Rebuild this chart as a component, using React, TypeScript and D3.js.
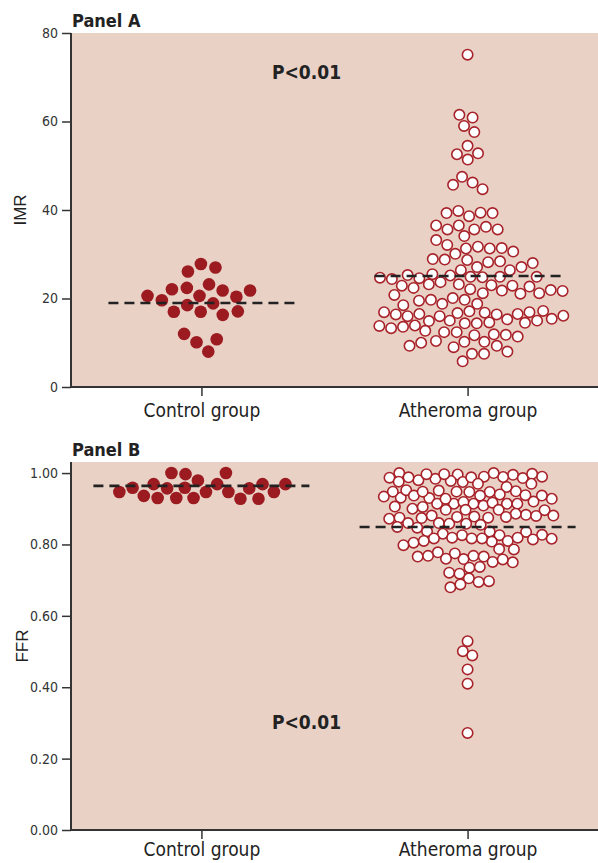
import React, { useEffect, useRef } from "react";
import * as d3 from "d3";

const groups = ["Control group", "Atheroma group"];

// Panel A: IMR
const imrTicks = [0, 20, 40, 60, 80];
const imrControl = [27.8, 26.1, 27.0, 23.2, 22.1, 21.8, 20.6, 20.6, 20.4, 21.8, 22.4, 19.6, 18.5, 18.9, 17.0, 16.3, 17.0, 17.1, 10.8, 12.0, 10.1, 8.0];
const imrAtheroma = [
  75.1, 61.5, 60.9, 59.0, 57.6, 54.5, 52.6, 52.8, 51.4, 47.5, 45.7, 44.7, 46.2,
  39.3, 39.3, 39.8, 38.6, 39.4, 36.5, 36.5, 35.6, 35.6, 35.6, 36.2, 33.2, 34.1,
  31.7, 31.3, 30.6, 31.3, 31.4, 32.1, 28.9, 28.8, 28.4, 28.0, 28.2, 28.7, 30.1,
  27.1, 26.4, 26.4, 27.1, 25.5, 25.3, 24.9, 24.7, 24.4, 24.9, 24.9, 25.2, 24.6, 24.8,
  23.7, 22.9, 23.2, 22.1, 22.9, 21.7, 21.9, 21.8, 22.4, 22.7, 23.0, 23.2,
  21.2, 20.8, 19.7, 19.7, 19.5, 20.1, 21.1, 21.2, 18.8, 18.5, 18.8,
  16.9, 16.4, 17.2, 16.0, 16.1, 16.5, 16.9, 16.8, 16.4, 16.5, 17.1, 16.0, 16.7, 15.4,
  15.3, 15.0, 14.5, 14.4, 13.8, 13.3, 13.6, 13.9, 14.4, 14.6, 14.9, 15.0,
  12.4, 11.9, 11.4, 11.7, 11.8, 12.4, 12.7, 9.3, 10.2, 9.0, 10.0, 10.2, 10.4, 9.3,
  7.5, 7.5, 8.0, 5.8,
];
const imrMeans = [19.0, 25.1];

// Panel B: FFR
const ffrTicks = [0, 0.2, 0.4, 0.6, 0.8, 1.0];
const ffrControl = [1.0, 0.997, 1.0, 0.979, 0.969, 0.969, 0.957, 0.957, 0.959, 0.969, 0.969, 0.959, 0.947, 0.947, 0.947, 0.947, 0.93, 0.928, 0.93, 0.93, 0.928, 0.936];
const ffrAtheroma = [
  0.995, 0.984, 0.996, 0.99, 0.975, 0.988, 0.99, 1.0, 0.98, 0.988, 0.997,
  0.949, 0.961, 0.947, 0.931, 0.93, 0.928, 0.938, 0.952, 0.937, 0.948, 0.934, 0.937, 0.951,
  0.909, 0.906, 0.9, 0.914, 0.896, 0.914, 0.92, 0.914, 0.914,
  0.872, 0.86, 0.875, 0.881, 0.858, 0.874, 0.877, 0.883, 0.881,
  0.849, 0.827, 0.835, 0.816,
  0.986, 0.998, 0.989, 0.97, 0.987, 0.978, 1.0, 0.976, 0.997, 0.97,
  0.937, 0.94, 0.948, 0.948, 0.928, 0.947,
  0.917, 0.914, 0.919, 0.897, 0.897, 0.897, 0.905,
  0.886, 0.88, 0.877, 0.875, 0.878,
  0.858, 0.855, 0.86, 0.847, 0.837, 0.83, 0.826, 0.826,
  0.814, 0.81, 0.805, 0.798, 0.819, 0.836, 0.819, 0.817, 0.808, 0.81, 0.817, 0.817,
  0.768, 0.766, 0.759, 0.75, 0.778, 0.786, 0.775, 0.787, 0.751, 0.758, 0.76, 0.766, 0.768, 0.735, 0.737,
  0.721, 0.705, 0.695, 0.68, 0.688, 0.697, 0.718,
  0.501, 0.489, 0.529, 0.45, 0.41, 0.272,
];
const ffrMeans = [0.964, 0.849];

const FONT = "'Liberation Sans Narrow', 'DejaVu Sans Condensed', 'Arial Narrow', sans-serif";
const BG = "#ead1c6";
const RED = "#9b1b20";
const RING = "#a8222a";

const App = () => {
  const svgRef = useRef(null);

  useEffect(() => {
    const svg = d3.select(svgRef.current);
    svg.selectAll("*").remove();

    const left = 71;
    const right = 598;

    const x = d3.scalePoint().domain(groups).range([left, right]).padding(0.49);

    const drawPanel = (opts) => {
      const { top, bottom, domain, ticks, fmt, title, yLabel, yLabelX, pY, series, means, halfLine, collide, catPad } = opts;
      const y = d3.scaleLinear().domain(domain).range([bottom, top]);
      const g = svg.append("g");

      g.append("rect")
        .attr("x", left)
        .attr("y", top)
        .attr("width", right - left)
        .attr("height", bottom - top)
        .attr("fill", BG);

      // y axis
      const ya = g
        .append("g")
        .attr("transform", `translate(${left},0)`)
        .call(d3.axisLeft(y).tickValues(ticks).tickSize(9).tickPadding(4).tickFormat(fmt));
      ya.select(".domain").remove();
      ya.selectAll(".tick line").attr("stroke", "#333").attr("stroke-width", 1.5);
      ya.selectAll("text")
        .attr("fill", "#333")
        .attr("font-size", 14)
        .attr("font-family", FONT);

      // x axis
      const xa = g
        .append("g")
        .attr("transform", `translate(0,${bottom})`)
        .call(d3.axisBottom(x).tickSize(9).tickPadding(catPad));
      xa.select(".domain").remove();
      xa.selectAll(".tick line").attr("stroke", "#333").attr("stroke-width", 1.5);
      xa.selectAll("text")
        .attr("fill", "#222")
        .attr("font-size", 19)
        .attr("font-family", FONT);

      g.append("line")
        .attr("x1", left).attr("x2", left)
        .attr("y1", top).attr("y2", bottom + 1)
        .attr("stroke", "#333").attr("stroke-width", 2);
      g.append("line")
        .attr("x1", left).attr("x2", right)
        .attr("y1", bottom).attr("y2", bottom)
        .attr("stroke", "#333").attr("stroke-width", 2);

      g.append("text")
        .attr("x", left + 1)
        .attr("y", top - 6)
        .attr("font-family", FONT)
        .attr("font-weight", "bold")
        .attr("font-size", 18)
        .attr("fill", "#222")
        .text(title);

      g.append("text")
        .attr("transform", `translate(${yLabelX},${(top + bottom) / 2}) rotate(-90)`)
        .attr("text-anchor", "middle")
        .attr("font-family", "'Liberation Sans', sans-serif")
        .attr("font-size", 17)
        .attr("fill", "#222")
        .text(yLabel);

      g.append("text")
        .attr("x", 272)
        .attr("y", y(pY))
        .attr("font-family", FONT)
        .attr("font-weight", "bold")
        .attr("font-size", 19)
        .attr("fill", "#222")
        .text("P<0.01");

      // beeswarm points
      series.forEach((vals, i) => {
        const cx = x(groups[i]);
        const nodes = vals.map((v) => ({ v, x: cx, y: y(v), fy: y(v) }));
        const sim = d3
          .forceSimulation(nodes)
          .force("x", d3.forceX(cx).strength(0.1))
          .force("collide", d3.forceCollide(collide[i]).iterations(2))
          .stop();
        for (let k = 0; k < 300; k++) sim.tick();

        g.append("g")
          .selectAll("circle")
          .data(nodes)
          .enter()
          .append("circle")
          .attr("cx", (d) => d.x)
          .attr("cy", (d) => d.fy)
          .attr("r", i === 0 ? 6.3 : 5.2)
          .attr("fill", i === 0 ? RED : "#fff")
          .attr("stroke", i === 0 ? "none" : RING)
          .attr("stroke-width", 1.6);
      });

      // mean lines
      means.forEach((m, i) => {
        const cx = x(groups[i]);
        g.append("line")
          .attr("x1", cx - halfLine)
          .attr("x2", cx + halfLine)
          .attr("y1", y(m))
          .attr("y2", y(m))
          .attr("stroke", "#222")
          .attr("stroke-width", 2.6)
          .attr("stroke-dasharray", "10,6");
      });
    };

    drawPanel({
      top: 33,
      bottom: 387,
      domain: [0, 80],
      ticks: imrTicks,
      fmt: d3.format("d"),
      title: "Panel A",
      yLabel: "IMR",
      yLabelX: 26,
      pY: 69.6,
      series: [imrControl, imrAtheroma],
      means: imrMeans,
      halfLine: 93,
      collide: [7.5, 6],
      catPad: 8,
    });

    drawPanel({
      top: 462,
      bottom: 830,
      domain: [0, 1.031],
      ticks: ffrTicks,
      fmt: d3.format(".2f"),
      title: "Panel B",
      yLabel: "FFR",
      yLabelX: 28,
      pY: 0.283,
      series: [ffrControl, ffrAtheroma],
      means: ffrMeans,
      halfLine: 108,
      collide: [7, 5.2],
      catPad: 4,
    });
  }, []);

  return (
    <svg
      ref={svgRef}
      width={598}
      height={863}
      style={{ display: "block", position: "absolute", left: 0, top: 0 }}
    />
  );
};

export default App;
